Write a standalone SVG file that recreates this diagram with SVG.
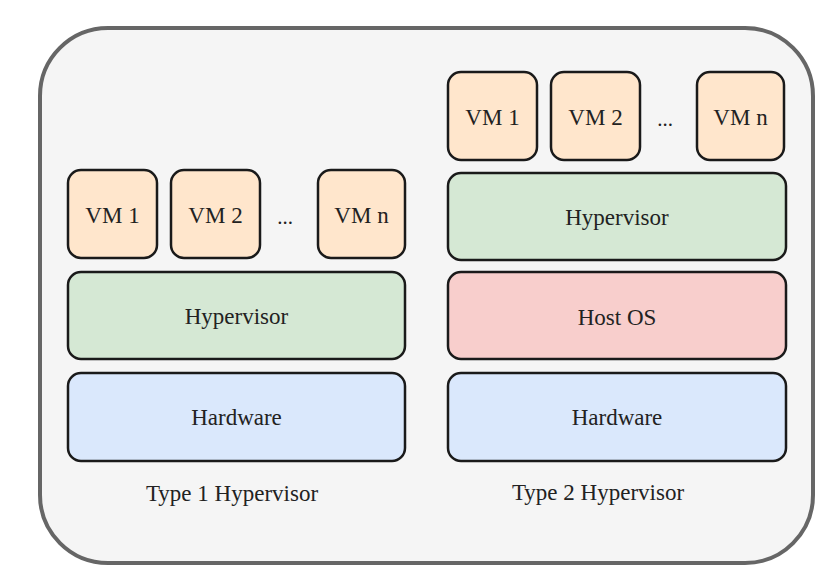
<svg xmlns="http://www.w3.org/2000/svg" width="836" height="585" viewBox="0 0 836 585">
<style>
.box{stroke:#1a1a1a;stroke-width:2.5}
.vm{fill:#ffe6cc}
.hv{fill:#d5e8d4}
.os{fill:#f8cecc}
.hw{fill:#dae8fc}
.t{font-size:23px;fill:#222;text-anchor:middle}
</style>
<rect width="836" height="585" fill="#ffffff"/>
<g id="frame"><rect x="40" y="28" width="773" height="535" rx="68" ry="68" fill="#f5f5f5" stroke="#666666" stroke-width="4"/></g>
<g font-family="Liberation Serif, DejaVu Serif, Times New Roman, serif">
<g id="t1-vm1"><rect class="box vm" x="68" y="170" width="89" height="88" rx="13"/><text class="t" x="112.5" y="223">VM 1</text></g>
<g id="t1-vm2"><rect class="box vm" x="171" y="170" width="89" height="88" rx="13"/><text class="t" x="215.5" y="223">VM 2</text></g>
<g id="t1-dots"><text class="t" x="285" y="224" style="font-size:21px">...</text></g>
<g id="t1-vmn"><rect class="box vm" x="318" y="170" width="87" height="88" rx="13"/><text class="t" x="361.5" y="223">VM n</text></g>
<g id="t1-hyp"><rect class="box hv" x="68" y="272" width="337" height="87" rx="13"/><text class="t" x="236.5" y="324">Hypervisor</text></g>
<g id="t1-hw"><rect class="box hw" x="68" y="373" width="337" height="88" rx="13"/><text class="t" x="236.5" y="425">Hardware</text></g>
<g id="t1-label"><text class="t" x="232" y="501">Type 1 Hypervisor</text></g>
<g id="t2-vm1"><rect class="box vm" x="448" y="72" width="89" height="88" rx="13"/><text class="t" x="492.5" y="125">VM 1</text></g>
<g id="t2-vm2"><rect class="box vm" x="551" y="72" width="89" height="88" rx="13"/><text class="t" x="595.5" y="125">VM 2</text></g>
<g id="t2-dots"><text class="t" x="665" y="126" style="font-size:21px">...</text></g>
<g id="t2-vmn"><rect class="box vm" x="697" y="72" width="87" height="88" rx="13"/><text class="t" x="740.5" y="125">VM n</text></g>
<g id="t2-hyp"><rect class="box hv" x="448" y="173" width="338" height="87" rx="13"/><text class="t" x="617" y="225">Hypervisor</text></g>
<g id="t2-os"><rect class="box os" x="448" y="272" width="338" height="87" rx="13"/><text class="t" x="617" y="325">Host OS</text></g>
<g id="t2-hw"><rect class="box hw" x="448" y="373" width="338" height="88" rx="13"/><text class="t" x="617" y="425">Hardware</text></g>
<g id="t2-label"><text class="t" x="598" y="500">Type 2 Hypervisor</text></g>
</g>
<g id="connectors"></g>
</svg>
